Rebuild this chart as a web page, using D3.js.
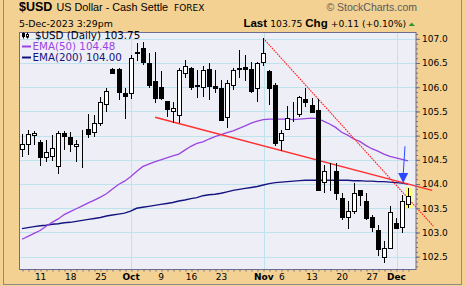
<!DOCTYPE html>
<html>
<head>
<meta charset="utf-8">
<script src="https://cdn.jsdelivr.net/npm/d3@7"></script>
<style>
body { margin: 0; background: #f2d192; }
svg { display: block; }
text { font-family: "DejaVu Sans", sans-serif; }
</style>
</head>
<body>
<svg id="chart" width="465" height="286"></svg>
<script>
// daily candles, Sep 6 2023 .. Dec 5 2023 (trading day index 0..64)
var opens = [104.72, 104.82, 105.02, 104.86, 104.56, 104.58, 104.36, 105.05, 104.98, 104.77,
    104.79, 105.13, 105.07, 105.26, 105.65, 106.37, 106.38, 105.88, 105.88, 106.70,
    106.80, 106.51, 106.12, 106.01, 105.72, 105.51, 105.44, 106.29, 106.40, 106.02,
    106.01, 106.38, 106.03, 105.98, 105.37, 106.05, 106.38, 106.41, 106.37, 105.98,
    106.51, 106.34, 106.05, 104.90, 105.13, 105.44, 105.43, 105.76, 105.64, 105.53,
    104.04, 104.25, 104.26, 103.71, 103.31, 103.44, 103.88, 103.64, 103.32, 103.06,
    102.49, 102.67, 103.20, 103.11, 103.59];
var highs = [105.03, 105.12, 105.09, 104.91, 104.91, 105.02, 105.09, 105.09, 105.07, 104.91,
    105.12, 105.45, 105.43, 105.79, 105.98, 106.39, 106.39, 105.98, 106.66, 106.92,
    106.93, 106.70, 106.72, 106.34, 105.72, 105.70, 106.39, 106.56, 106.41, 106.36,
    106.43, 106.49, 106.36, 106.15, 106.15, 106.39, 106.77, 106.67, 106.53, 106.53,
    107.01, 106.36, 106.08, 105.12, 105.61, 105.70, 105.82, 105.98, 105.77, 105.76,
    104.40, 104.43, 104.43, 103.82, 103.64, 104.02, 103.88, 103.82, 103.37, 103.16,
    102.82, 103.54, 103.30, 103.78, 103.92];
var lows = [104.55, 104.59, 104.81, 104.38, 104.45, 104.48, 104.21, 104.71, 104.66, 104.45,
    104.34, 104.95, 104.98, 105.19, 105.48, 106.27, 105.73, 105.34, 105.76, 106.55,
    106.46, 105.99, 105.67, 105.74, 105.39, 105.26, 105.26, 106.19, 105.94, 105.77,
    105.79, 105.74, 105.88, 105.30, 105.15, 105.94, 106.19, 106.12, 105.88, 105.70,
    106.43, 105.64, 104.78, 104.69, 105.13, 105.29, 105.39, 105.60, 105.46, 103.85,
    103.82, 103.85, 103.68, 103.26, 103.07, 103.39, 103.54, 103.26, 103.02, 102.51,
    102.38, 102.65, 103.09, 102.99, 103.50];
var closes = [104.83, 105.03, 105.06, 104.54, 104.67, 104.74, 105.05, 104.99, 104.84, 104.82,
    104.80, 105.03, 105.26, 105.69, 105.92, 106.29, 105.91, 105.81, 106.60, 106.72,
    106.51, 106.05, 105.77, 105.79, 105.55, 105.58, 106.36, 106.43, 106.01, 106.04,
    106.36, 106.03, 105.98, 105.31, 106.08, 106.36, 106.40, 106.37, 105.91, 106.49,
    106.70, 105.98, 104.85, 105.05, 105.36, 105.45, 105.79, 105.70, 105.50, 103.88,
    104.27, 104.26, 103.80, 103.31, 103.44, 103.82, 103.77, 103.28, 103.11, 102.67,
    102.68, 103.42, 103.09, 103.64, 103.75];

var ema50 = [102.86, 102.92, 102.98, 103.04, 103.13, 103.21, 103.28, 103.37, 103.43, 103.49,
    103.55, 103.61, 103.67, 103.73, 103.80, 103.90, 103.99, 104.06, 104.15, 104.26,
    104.36, 104.41, 104.46, 104.50, 104.54, 104.58, 104.62, 104.70, 104.78, 104.84,
    104.87, 104.93, 104.98, 105.02, 105.06, 105.10, 105.15, 105.20, 105.26, 105.30,
    105.33, 105.34, 105.34, 105.34, 105.34, 105.33, 105.34, 105.35, 105.36, 105.35,
    105.30, 105.24, 105.17, 105.07, 105.01, 104.93, 104.88, 104.80, 104.73, 104.68,
    104.62, 104.57, 104.54, 104.51, 104.48];
var ema200 = [103.08, 103.10, 103.12, 103.14, 103.15, 103.17, 103.18, 103.20, 103.21, 103.23,
    103.25, 103.27, 103.29, 103.31, 103.34, 103.36, 103.38, 103.40, 103.44, 103.50,
    103.52, 103.54, 103.56, 103.58, 103.60, 103.62, 103.65, 103.67, 103.70, 103.72,
    103.76, 103.78, 103.79, 103.81, 103.84, 103.87, 103.89, 103.91, 103.93, 103.95,
    103.98, 104.01, 104.03, 104.04, 104.05, 104.06, 104.07, 104.08, 104.08, 104.08,
    104.08, 104.08, 104.08, 104.08, 104.08, 104.07, 104.07, 104.06, 104.06, 104.05,
    104.05, 104.04, 104.03, 104.02, 104.00];

// x axis labels (trading day index -> label)
var tickDays = [3, 8, 13, 18, 23, 28, 33, 40, 43, 48, 53, 58, 62];
var tickLabels = ['11', '18', '25', 'Oct', '9', '16', '23', 'Nov', '6', '13', '20', '27', 'Dec'];
var monthDays = [18, 40, 62];
var yTicks = [102.5, 103, 103.5, 104, 104.5, 105, 105.5, 106, 106.5, 107];

// drawn annotations: [day index, price]
var trendSolid = [[22.06, 105.38], [68.0, 103.87]];
var trendDotted = [[40, 107.01], [68.2, 103.13]];
var arrowTop = [63.5, 104.78];
var arrowTip = [63.2, 104.02];

var svg = d3.select('#chart');
var plot = {left: 19.5, right: 416, top: 32.5, bottom: 269.5};

var x = d3.scaleLinear().domain([0, 64]).range([22, 408]);
var y = d3.scaleLinear().domain([102.5, 107]).range([256.7, 38.8]);

function px(v) { return Math.round(v) + 0.5; }

// outer frame
svg.append('rect')
    .attr('x', 3.5).attr('y', -2)
    .attr('width', 458).attr('height', 286.5)
    .attr('fill', '#f2d192')
    .attr('stroke', '#8c8c8c');

// header
var head = svg.append('text').attr('y', 10.5);
head.append('tspan').attr('x', 19)
    .style('font-family', '"Liberation Sans", Arial, sans-serif')
    .style('font-weight', 'bold').style('font-size', '12.5px')
    .text('$USD');
head.append('tspan').attr('x', 56.5)
    .style('font-family', '"Liberation Sans", Arial, sans-serif')
    .style('font-size', '10.8px')
    .text('US Dollar - Cash Settle');
head.append('tspan').attr('x', 174)
    .style('font-size', '9px')
    .text('FOREX');

svg.append('text')
    .attr('x', 417).attr('y', 10.5)
    .attr('text-anchor', 'end')
    .style('font-family', '"Liberation Sans", Arial, sans-serif')
    .style('font-size', '10.5px')
    .attr('fill', '#5a5a5a')
    .text('\u00a9 StockCharts.com');

svg.append('text')
    .attr('x', 19).attr('y', 26.5)
    .style('font-size', '9.4px')
    .text('5-Dec-2023 3:29pm');

var last = svg.append('text')
    .attr('x', 406).attr('y', 26.5)
    .attr('text-anchor', 'end');
last.append('tspan')
    .style('font-family', '"Liberation Sans", Arial, sans-serif')
    .style('font-weight', 'bold').style('font-size', '11.5px')
    .text('Last ');
last.append('tspan').style('font-size', '9.2px').text('103.75  ');
last.append('tspan')
    .style('font-family', '"Liberation Sans", Arial, sans-serif')
    .style('font-weight', 'bold').style('font-size', '11.5px')
    .text('Chg ');
last.append('tspan').style('font-size', '9.2px').text('+0.11 (+0.10%)');

svg.append('path')
    .attr('d', 'M408.5,26L415,26L411.75,22.5Z')
    .attr('fill', '#2e9a2e');

// plot area
svg.append('rect')
    .attr('x', plot.left).attr('y', plot.top)
    .attr('width', plot.right - plot.left)
    .attr('height', plot.bottom - plot.top)
    .attr('fill', '#eeeef7');

var grid = svg.append('g').attr('stroke', '#bfe3ec').attr('stroke-width', 1);
grid.selectAll('.hgrid')
    .data(yTicks)
  .enter()
  .append('line')
    .attr('class', 'hgrid')
    .attr('x1', plot.left).attr('x2', plot.right)
    .attr('y1', function(d) { return px(y(d)); })
    .attr('y2', function(d) { return px(y(d)); });
grid.selectAll('.vgrid')
    .data(monthDays)
  .enter()
  .append('line')
    .attr('class', 'vgrid')
    .attr('y1', plot.top).attr('y2', plot.bottom)
    .attr('x1', function(d) { return px(x(d) + 0.6); })
    .attr('x2', function(d) { return px(x(d) + 0.6); });

// moving averages
var emaLine = d3.line()
    .x(function(d, i) { return x(i); })
    .y(function(d) { return y(d); });

svg.append('path')
    .attr('d', emaLine(ema200))
    .attr('fill', 'none')
    .attr('stroke', '#141480')
    .attr('stroke-width', 1.4);
svg.append('path')
    .attr('d', emaLine(ema50))
    .attr('fill', 'none')
    .attr('stroke', '#9a44e0')
    .attr('stroke-width', 1.3);

// highlight on last bar
svg.append('rect')
    .attr('x', x(64) - 2.5).attr('y', y(103.93))
    .attr('width', 7).attr('height', y(103.50) - y(103.93))
    .attr('fill', '#ffff66');

// trend lines
var trend = d3.line()
    .x(function(d) { return x(d[0]); })
    .y(function(d) { return y(d[1]); });
svg.append('path')
    .attr('d', trend(trendSolid))
    .attr('fill', 'none')
    .attr('stroke', '#ff3030')
    .attr('stroke-width', 1.5);
svg.append('path')
    .attr('d', trend(trendDotted))
    .attr('fill', 'none')
    .attr('stroke', '#ff1a1a')
    .attr('stroke-width', 1.1)
    .attr('stroke-dasharray', '1.6,1');

// candles
var days = d3.range(opens.length);
var candles = svg.append('g').selectAll('.candle')
    .data(days)
  .enter()
  .append('g')
    .attr('class', 'candle');

candles.append('line')
    .attr('x1', function(i) { return px(x(i)); })
    .attr('x2', function(i) { return px(x(i)); })
    .attr('y1', function(i) { return Math.round(y(highs[i])); })
    .attr('y2', function(i) { return Math.round(y(lows[i])); })
    .attr('stroke', '#000');

candles.append('rect')
    .attr('x', function(i) { return px(x(i)) - 2; })
    .attr('y', function(i) { return px(y(Math.max(opens[i], closes[i]))); })
    .attr('width', 4)
    .attr('height', function(i) {
        return Math.max(0, Math.round(Math.abs(y(opens[i]) - y(closes[i]))));
    })
    .attr('fill', function(i) { return closes[i] >= opens[i] ? '#fff' : '#000'; })
    .attr('stroke', '#000');

// blue arrow
svg.append('line')
    .attr('x1', x(arrowTop[0])).attr('y1', y(arrowTop[1]))
    .attr('x2', x(arrowTip[0])).attr('y2', y(arrowTip[1]) - 8)
    .attr('stroke', '#2a48ff')
    .attr('stroke-width', 1);
svg.append('path')
    .attr('d', function() {
        var tx = x(arrowTip[0]), ty = y(arrowTip[1]);
        return 'M' + (tx - 5) + ',' + (ty - 10) + 'L' + (tx + 5) + ',' + (ty - 10) + 'L' + tx + ',' + ty + 'Z';
    })
    .attr('fill', '#2a48ff');

// plot border
svg.append('rect')
    .attr('x', plot.left).attr('y', plot.top)
    .attr('width', plot.right - plot.left)
    .attr('height', plot.bottom - plot.top)
    .attr('fill', 'none')
    .attr('stroke', '#6c6c92');

// legend
svg.append('text')
    .attr('x', 35).attr('y', 38.5)
    .style('font-size', '10.3px')
    .text('$USD (Daily) 103.75');
var icon = svg.append('g').attr('stroke', '#000');
icon.append('line').attr('x1', 23.5).attr('x2', 23.5).attr('y1', 32.5).attr('y2', 38.5);
icon.append('rect').attr('x', 22.5).attr('y', 33.5).attr('width', 2).attr('height', 3).attr('fill', '#000');
icon.append('line').attr('x1', 27.5).attr('x2', 27.5).attr('y1', 32.5).attr('y2', 38.5);
icon.append('rect').attr('x', 26.5).attr('y', 34.5).attr('width', 2).attr('height', 2.5).attr('fill', '#fff');

svg.append('line')
    .attr('x1', 22).attr('x2', 31).attr('y1', 46.5).attr('y2', 46.5)
    .attr('stroke', '#9a44e0').attr('stroke-width', 2);
svg.append('text')
    .attr('x', 32.5).attr('y', 49.8)
    .style('font-size', '10.3px')
    .attr('fill', '#9a44e0')
    .text('EMA(50) 104.48');
svg.append('line')
    .attr('x1', 22).attr('x2', 31).attr('y1', 57.5).attr('y2', 57.5)
    .attr('stroke', '#141480').attr('stroke-width', 2);
svg.append('text')
    .attr('x', 32.5).attr('y', 61)
    .style('font-size', '10.3px')
    .attr('fill', '#141480')
    .text('EMA(200) 104.00');

// right axis
var yMinor = d3.range(1023, 1072).map(function(d) { return d / 10; });
svg.append('g')
    .attr('transform', 'translate(' + plot.right + ',0)')
    .call(d3.axisRight(y).tickValues(yMinor).tickSize(2).tickFormat(''))
    .call(function(g) { g.select('.domain').remove(); })
    .selectAll('line').attr('stroke', '#6c6c92');
var yAxisG = svg.append('g')
    .attr('transform', 'translate(' + plot.right + ',0)')
    .call(d3.axisRight(y).tickValues(yTicks).tickSize(4).tickPadding(2).tickFormat(d3.format('.1f')));
yAxisG.select('.domain').remove();
yAxisG.selectAll('line').attr('stroke', '#6c6c92');
yAxisG.selectAll('text')
    .style('font-family', '"DejaVu Sans", sans-serif')
    .style('font-size', '9px')
    .attr('fill', '#000');

// bottom axis
svg.append('g')
    .attr('transform', 'translate(0,' + plot.bottom + ')')
    .call(d3.axisBottom(x).tickValues(days).tickSize(2).tickFormat(''))
    .call(function(g) { g.select('.domain').remove(); })
    .selectAll('line')
    .attr('stroke', '#6c6c92')
    .attr('transform', function(i) { return 'translate(' + (px(x(i)) - x(i)) + ',0)'; });
var xAxisG = svg.append('g')
    .attr('transform', 'translate(0,' + plot.bottom + ')')
    .call(d3.axisBottom(x).tickValues(tickDays).tickSize(0).tickPadding(4.2)
        .tickFormat(function(d, i) { return tickLabels[i]; }));
xAxisG.select('.domain').remove();
xAxisG.selectAll('text')
    .style('font-family', '"DejaVu Sans", sans-serif')
    .style('font-size', '9px')
    .style('font-weight', function(d, i) { return monthDays.indexOf(d) >= 0 ? 'bold' : 'normal'; })
    .attr('fill', '#000');
</script>
</body>
</html>
